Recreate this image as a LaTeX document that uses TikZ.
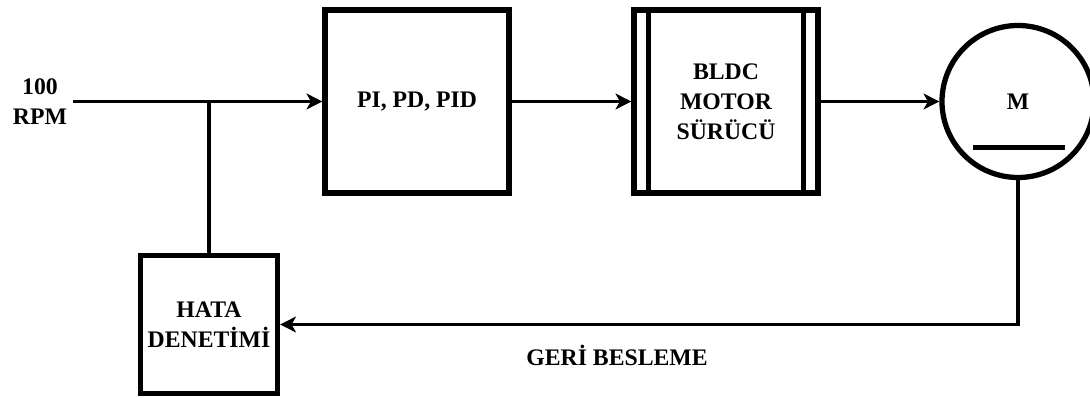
\documentclass[tikz,border=0pt]{standalone}
\usepackage{fontspec}
\setmainfont{Liberation Serif}
\usetikzlibrary{arrows.meta}

\begin{document}
\begin{tikzpicture}[
        font=\fontsize{13.5pt}{17pt}\selectfont\bfseries,
        block/.style={draw,rectangle,line width=3pt,minimum width=3.68cm,minimum height=3.66cm,align=center},
        sig/.style={-{Stealth[length=9pt,width=9pt,inset=2.5pt]},line width=2.1pt}
    ]
    \useasboundingbox (0,0) rectangle (21.8,7.94);

    \node[align=center] at (0.8,5.91) (rpm) {100\\RPM};
    \node[block] at (8.34,5.91) (pi) {PI, PD, PID};
    \node[block] at (14.52,5.91) (drv) {BLDC\\MOTOR\\SÜRÜCÜ};
    \node[draw,circle,line width=3pt,minimum size=3.04cm,inner sep=0pt] at (20.36,5.91) (motor) {M};
    \node[block,minimum width=2.74cm,minimum height=2.77cm] at (4.18,1.45) (hata) {HATA\\DENETİMİ};
    \node at (12.34,0.83) (fb) {GERİ BESLEME};

    % driver side bars and motor bar
    \draw[line width=3pt] ([xshift=0.34cm]drv.north west) -- ([xshift=0.34cm]drv.south west);
    \draw[line width=3pt] ([xshift=-0.34cm]drv.north east) -- ([xshift=-0.34cm]drv.south east);
    \draw[line width=3pt] ([xshift=-0.9cm,yshift=-0.92cm]motor.center) -- ([xshift=0.94cm,yshift=-0.92cm]motor.center);

    \draw[sig] (rpm.east) -- (pi.west);
    \draw[sig] (pi.east) -- (drv.west);
    \draw[sig] (drv.east) -- (motor.west);
    \draw[sig] (motor.south) |- (hata.east);
    \draw[line width=1.8pt] (hata.north) -- (hata.north |- rpm.east);
\end{tikzpicture}
\end{document}
